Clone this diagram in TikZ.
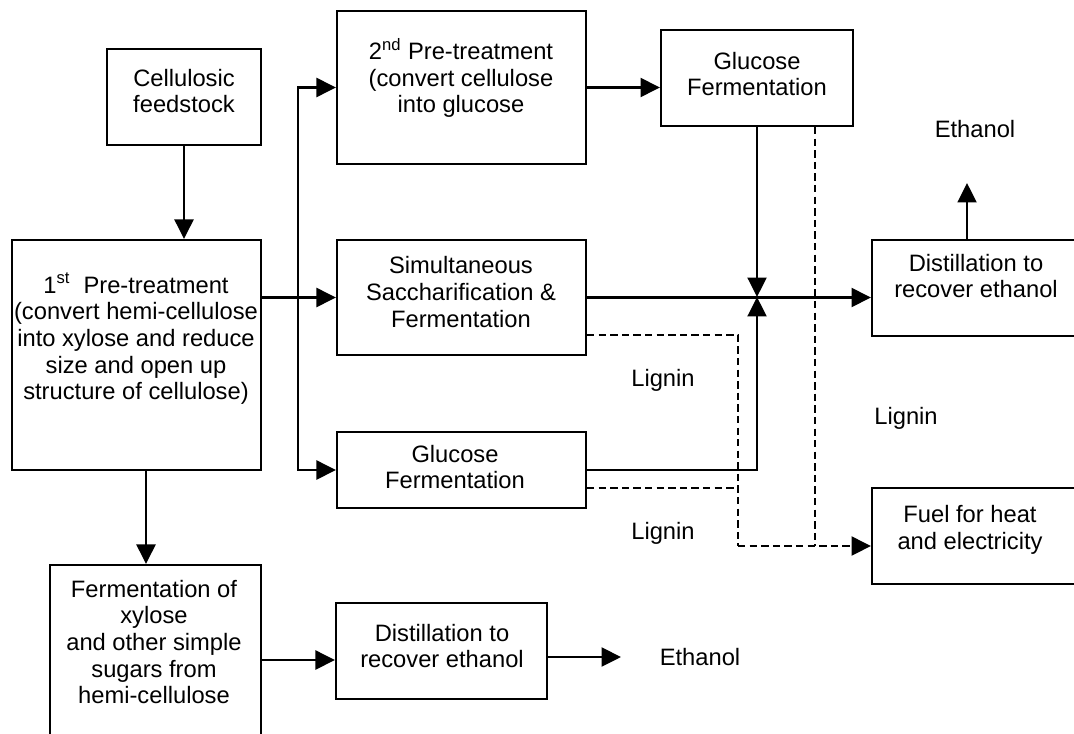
\documentclass[tikz,border=0pt]{standalone}
\usepackage{fontspec}
\setmainfont{Liberation Sans}
\usetikzlibrary{arrows.meta, fit}
\tikzset{
  every picture/.style={line width=1.15pt},
  box/.style={draw, inner sep=0pt},
  txt/.style={align=center, inner sep=1pt, font=\fontsize{13.5}{15.2}\selectfont},
  arrow/.style={-{Triangle[length=0.39cm, width=0.38cm]}},
  lig/.style={dash pattern=on 4.2pt off 2.4pt},
}
\begin{document}
\begin{tikzpicture}[x=0.02cm, y=-0.02cm]
  \useasboundingbox (0,0) rectangle (1074,733);
  % ---------- boxes
  \node[box, fit={(107,49) (261,145)}] (cell) {};
  \node[box, fit={(12,240) (261,470)}] (pre1) {};
  \node[box, fit={(50,565) (261,745)}] (xyl) {};
  \node[box, fit={(337,11) (586,164)}] (pre2) {};
  \node[box, fit={(337,240) (586,355)}] (ssf) {};
  \node[box, fit={(337,432) (586,508)}] (glb) {};
  \node[box, fit={(336,603) (547,699)}] (dsb) {};
  \node[box, fit={(661,30) (853,126)}] (glt) {};
  \node[box, fit={(872,240) (1082,336)}] (dsr) {};
  \node[box, fit={(872,488) (1082,584)}] (fuel) {};
  % ---------- texts
  \node[txt] (cell-t) at (184,91) {Cellulosic\\feedstock};
  \node[txt] (pre1-t) at (136,339) {1\textsuperscript{st}\ \ Pre-treatment\\(convert hemi-cellulose\\into xylose and reduce\\size and open up\\structure of cellulose)};
  \node[txt] (xyl-t) at (154,642) {Fermentation of\\xylose\\and other simple\\sugars from\\hemi-cellulose};
  \node[txt] (pre2-t) at (461,78) {2\textsuperscript{nd} Pre-treatment\\(convert cellulose\\into glucose};
  \node[txt] (ssf-t) at (461,292) {Simultaneous\\Saccharification \&\\Fermentation};
  \node[txt] (glb-t) at (455,467) {Glucose\\Fermentation};
  \node[txt] (dsb-t) at (442,646) {Distillation to\\recover ethanol};
  \node[txt] (glt-t) at (757,74) {Glucose\\Fermentation};
  \node[txt] (dsr-t) at (976,276) {Distillation to\\recover ethanol};
  \node[txt] (fuel-t) at (970,530) {Fuel for heat\\and electricity};
  \node[txt] (eth-t) at (975,129) {Ethanol};
  \node[txt] (eth-b) at (700,657) {Ethanol};
  \node[txt] (lig1) at (663,380) {Lignin};
  \node[txt] (lig2) at (906,418) {Lignin};
  \node[txt] (lig3) at (663,533) {Lignin};
  % ---------- joints
  \coordinate (split) at (298,297);
  \coordinate (jn) at (757,297);
  \coordinate (lg) at (738,546);
  \coordinate (up) at (967,183);
  % ---------- solid flows
  \draw[arrow] (cell.south) -- (cell.south |- pre1.north);
  \draw[arrow] ([xshift=0.19cm]pre1.south) -- ([xshift=0.19cm]pre1.south |- xyl.north);
  \draw[arrow] (pre1.east |- ssf.west) -- (ssf.west);
  \draw[arrow] (split) |- (pre2.west);
  \draw[arrow] (split) |- (glb.west);
  \draw[arrow] (pre2.east) -- (pre2.east -| glt.west);
  \draw[arrow] (glt.south) -- (jn);
  \draw[arrow] (glb.east) -| (jn);
  \draw[arrow] (ssf.east) -- (ssf.east -| dsr.west);
  \draw[arrow] (up |- dsr.north) -- (up);
  \draw[arrow] ([yshift=-0.18cm]dsb.west -| xyl.east) -- ([yshift=-0.18cm]dsb.west);
  \draw[arrow, shorten >=0.72cm] (eth-b.west -| dsb.east) -- (eth-b.west);
  % ---------- lignin to fuel
  \draw[lig] ([yshift=-0.75cm]ssf.east) -| (lg);
  \draw[lig] ([yshift=-0.36cm]glb.east) -- ([yshift=-0.36cm]glb.east -| lg);
  \draw[lig] ([xshift=1.16cm]glt.south) -- ([xshift=1.16cm]glt.south |- lg);
  \draw[lig, arrow] (lg) -- (lg -| fuel.west);
\end{tikzpicture}
\end{document}
